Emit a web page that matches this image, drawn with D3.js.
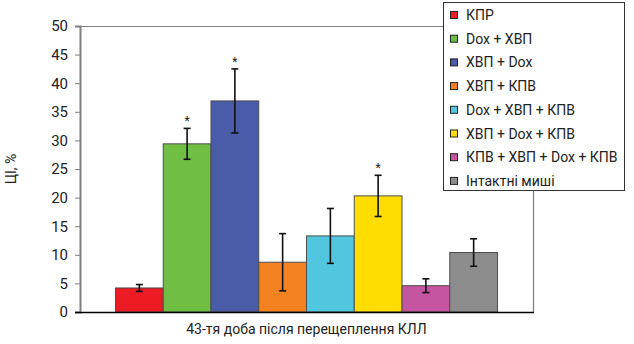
<!DOCTYPE html>
<html>
<head>
<meta charset="utf-8">
<script src="https://cdn.jsdelivr.net/npm/d3@7"></script>
<style>
  body { margin: 0; background: #fff; }
  svg { display: block; font-family: Roboto, "DejaVu Sans", sans-serif; }
</style>
</head>
<body>
<svg id="chart" width="634" height="344"></svg>
<script>
// groups and their values
const groups = [
  "КПР",
  "Dox + ХВП",
  "ХВП + Dox",
  "ХВП + КПВ",
  "Dox + ХВП + КПВ",
  "ХВП + Dox + КПВ",
  "КПВ + ХВП + Dox + КПВ",
  "Інтактні миші"
];
const values = [4.2, 29.4, 36.9, 8.7, 13.3, 20.3, 4.6, 10.4];
const errors = [0.6, 2.7, 5.6, 5.0, 4.8, 3.6, 1.2, 2.4];
const significant = [false, true, true, false, false, true, false, false];
const colors = ["#ed1c24", "#70bf44", "#4a5ba8", "#f58220", "#50c7df", "#ffdd00", "#c455a0", "#8c8c8c"];
const yTicks = [0, 5, 10, 15, 20, 25, 30, 35, 40, 45, 50];
const yTitle = "ЦІ, %";
const xTitle = "43-тя доба після перещеплення КЛЛ";

const plot = {left: 80, right: 533, top: 26, bottom: 312};
const legendBox = {x: 443, y: 2, w: 181, h: 188};

const svg = d3.select("#chart");

const y = d3.scaleLinear().domain([0, 50]).range([plot.bottom, plot.top]);
const x = d3.scaleBand()
  .domain(groups)
  .range([plot.left, plot.right])
  .paddingInner(0)
  .paddingOuter(0.743);

// frame: top and right edges
svg.append("line")
  .attr("x1", plot.left).attr("x2", plot.right)
  .attr("y1", plot.top + 0.5).attr("y2", plot.top + 0.5)
  .attr("stroke", "#7f7f7f").attr("stroke-width", 1.2);
svg.append("line")
  .attr("x1", plot.right + 0.5).attr("x2", plot.right + 0.5)
  .attr("y1", plot.top).attr("y2", plot.bottom)
  .attr("stroke", "#7f7f7f").attr("stroke-width", 1.2);

// bars
svg.append("g").selectAll("rect")
  .data(groups)
  .join("rect")
  .attr("x", d => x(d))
  .attr("y", (d, i) => y(values[i]))
  .attr("width", x.bandwidth())
  .attr("height", (d, i) => y(0) - y(values[i]))
  .attr("fill", (d, i) => colors[i])
  .attr("stroke", "#4d4d4d")
  .attr("stroke-width", 1);

// error bars
const eb = svg.append("g").attr("stroke", "#111").attr("stroke-width", 1.6);
groups.forEach((g, i) => {
  const cx = x(g) + x.bandwidth() / 2;
  const hi = y(values[i] + errors[i]);
  const lo = y(values[i] - errors[i]);
  eb.append("line").attr("x1", cx).attr("x2", cx).attr("y1", hi).attr("y2", lo);
  eb.append("line").attr("x1", cx - 3.5).attr("x2", cx + 3.5).attr("y1", hi).attr("y2", hi);
  eb.append("line").attr("x1", cx - 3.5).attr("x2", cx + 3.5).attr("y1", lo).attr("y2", lo);
  if (significant[i]) {
    svg.append("text")
      .attr("x", cx)
      .attr("y", hi - 3)
      .attr("text-anchor", "middle")
      .attr("font-size", 12)
      .attr("fill", "#222")
      .text("*");
  }
});

// y axis
const yAxis = svg.append("g")
  .attr("transform", `translate(${plot.left},0)`)
  .call(d3.axisLeft(y).tickValues(yTicks).tickSize(5).tickPadding(7));
yAxis.select(".domain").attr("stroke", "#7f7f7f").attr("stroke-width", 2);
yAxis.selectAll(".tick line").attr("stroke", "#7f7f7f");
yAxis.selectAll(".tick text")
  .attr("font-size", 15)
  .attr("fill", "#222")
  .attr("font-family", "Roboto, sans-serif");

// x baseline
svg.append("line")
  .attr("x1", plot.left - 5).attr("x2", plot.right + 1)
  .attr("y1", plot.bottom + 0.5).attr("y2", plot.bottom + 0.5)
  .attr("stroke", "#000").attr("stroke-width", 1.4);

// titles
svg.append("text")
  .attr("transform", `translate(16,${(plot.top + plot.bottom) / 2}) rotate(-90)`)
  .attr("text-anchor", "middle")
  .attr("font-size", 14)
  .attr("fill", "#222")
  .text(yTitle);

svg.append("text")
  .attr("x", (plot.left + plot.right) / 2)
  .attr("y", 334)
  .attr("text-anchor", "middle")
  .attr("font-size", 14)
  .attr("fill", "#222")
  .text(xTitle);

// legend
const legend = svg.append("g");
legend.append("rect")
  .attr("x", legendBox.x + 0.5).attr("y", legendBox.y + 0.5)
  .attr("width", legendBox.w).attr("height", legendBox.h)
  .attr("fill", "#fff")
  .attr("stroke", "#333").attr("stroke-width", 1);
const rows = legend.selectAll("g.item")
  .data(groups)
  .join("g")
  .attr("class", "item")
  .attr("transform", (d, i) => `translate(${legendBox.x + 7},${legendBox.y + 13 + i * 23.7})`);
rows.append("rect")
  .attr("x", 0.5).attr("y", -3.5)
  .attr("width", 7).attr("height", 7)
  .attr("fill", (d, i) => colors[i])
  .attr("stroke", "#222").attr("stroke-width", 1);
rows.append("text")
  .attr("x", 16)
  .attr("y", 0)
  .attr("dy", "0.36em")
  .attr("font-size", 14)
  .attr("fill", "#222")
  .text(d => d);
</script>
</body>
</html>
